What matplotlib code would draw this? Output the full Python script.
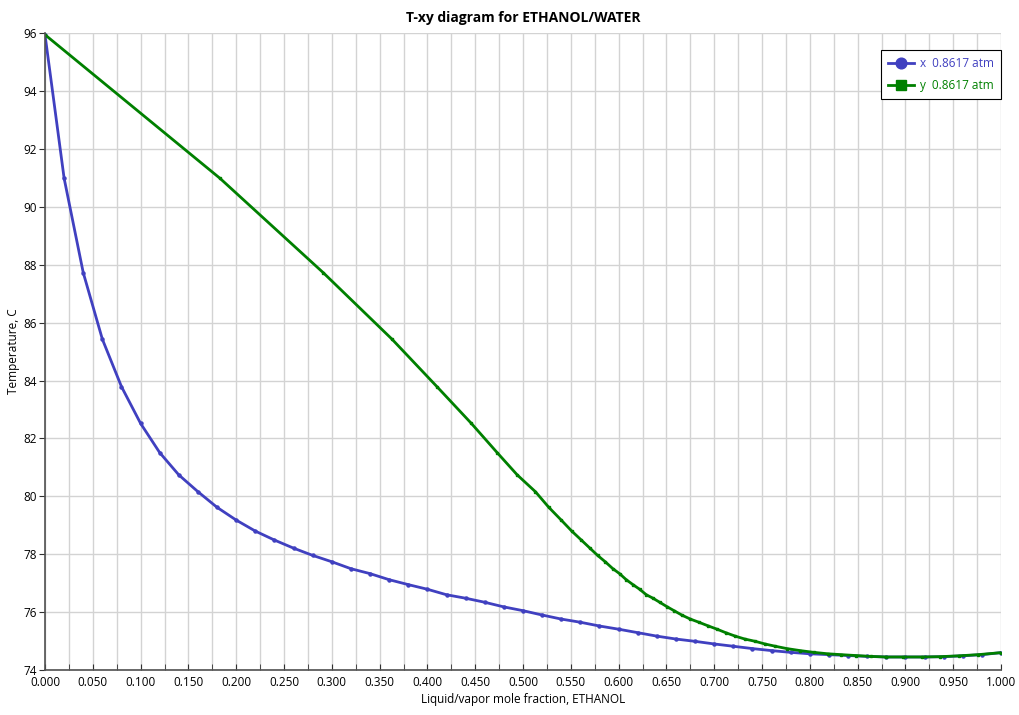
import matplotlib
matplotlib.use("Agg")
import matplotlib.pyplot as plt
from matplotlib.ticker import MultipleLocator, FormatStrFormatter

# liquid mole fraction (ethanol) and bubble temperature
x_liq = [0.00, 0.02, 0.04, 0.06, 0.08, 0.10, 0.12, 0.14, 0.16, 0.18,
         0.20, 0.22, 0.24, 0.26, 0.28, 0.30, 0.32, 0.34, 0.36, 0.38,
         0.40, 0.42, 0.44, 0.46, 0.48, 0.50, 0.52, 0.54, 0.56, 0.58,
         0.60, 0.62, 0.64, 0.66, 0.68, 0.70, 0.72, 0.74, 0.76, 0.78,
         0.80, 0.82, 0.84, 0.86, 0.88, 0.90, 0.92, 0.94, 0.96, 0.98, 1.00]
temp = [95.95, 90.99, 87.73, 85.43, 83.79, 82.52, 81.51, 80.74, 80.16, 79.62,
        79.18, 78.80, 78.49, 78.21, 77.96, 77.74, 77.50, 77.33, 77.12, 76.95,
        76.79, 76.60, 76.48, 76.34, 76.18, 76.05, 75.90, 75.76, 75.65, 75.52,
        75.41, 75.29, 75.17, 75.07, 74.99, 74.90, 74.82, 74.74, 74.67, 74.61,
        74.56, 74.53, 74.50, 74.47, 74.45, 74.45, 74.45, 74.46, 74.49, 74.53, 74.60]
# vapor mole fraction in equilibrium
y_vap = [0.000, 0.183, 0.291, 0.363, 0.410, 0.446, 0.473, 0.494, 0.513, 0.527,
         0.540, 0.551, 0.561, 0.570, 0.578, 0.586, 0.594, 0.601, 0.608, 0.615,
         0.622, 0.629, 0.636, 0.643, 0.651, 0.658, 0.666, 0.675, 0.684, 0.694,
         0.703, 0.712, 0.722, 0.732, 0.743, 0.753, 0.764, 0.776, 0.790, 0.804,
         0.819, 0.833, 0.848, 0.864, 0.880, 0.898, 0.917, 0.936, 0.956, 0.976, 1.000]

blue = '#4040c0'
green = '#008000'

plt.rcParams['font.family'] = ['Open Sans', 'DejaVu Sans']

fig = plt.figure(figsize=(10.19, 7.15), dpi=100)
ax = fig.add_axes([45/1019, 1 - 670/715, 956/1019, 636.7/715])

ax.plot(x_liq, temp, color=blue, lw=2.0, marker='o', markersize=2.2, label='x  0.8617 atm')
ax.plot(y_vap, temp, color=green, lw=2.0, marker='s', markersize=2.0, label='y  0.8617 atm')

ax.set_xlim(0, 1)
ax.set_ylim(74, 96)
ax.xaxis.set_major_locator(MultipleLocator(0.05))
ax.xaxis.set_minor_locator(MultipleLocator(0.025))
ax.xaxis.set_major_formatter(FormatStrFormatter('%.3f'))
ax.yaxis.set_major_locator(MultipleLocator(2))

ax.grid(True, which='both', axis='x', color='#d3d3d3', lw=1)
ax.grid(True, which='major', axis='y', color='#d3d3d3', lw=1)
ax.set_axisbelow(True)

for s in ['top', 'right']:
    ax.spines[s].set_visible(False)
for s in ['left', 'bottom']:
    ax.spines[s].set_color('#505050')
    ax.spines[s].set_linewidth(1.2)

ax.tick_params(axis='x', which='both', direction='in', length=4, color='#303030',
               labelsize=8.5, pad=4)
ax.tick_params(axis='y', direction='out', length=4, color='#303030', labelsize=8.5, pad=2)

ax.set_title('T-xy diagram for ETHANOL/WATER', fontsize=10, fontweight='bold', pad=8)
ax.set_xlabel('Liquid/vapor mole fraction, ETHANOL', fontsize=8.5, labelpad=3)
ax.set_ylabel('Temperature, C', fontsize=8.5, labelpad=2)

leg = ax.legend(loc='upper right', bbox_to_anchor=(1.0, 1 - 17/637), borderaxespad=0,
                fontsize=8.5, markerscale=3.5, fancybox=False, framealpha=1,
                edgecolor='black', handlelength=2.2, handletextpad=0.5,
                labelspacing=0.75, borderpad=0.6)
leg.get_frame().set_linewidth(0.8)
for txt, c in zip(leg.get_texts(), [blue, green]):
    txt.set_color(c)

fig.savefig('out.png', dpi=100)
